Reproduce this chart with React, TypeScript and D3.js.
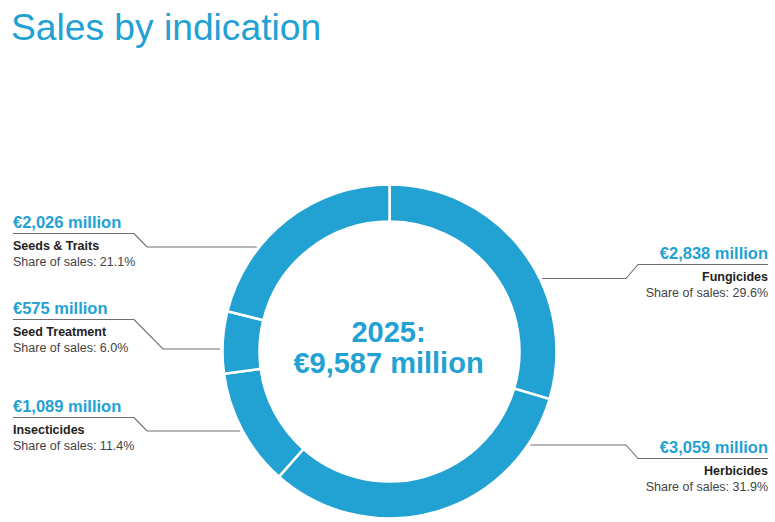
import React from 'react'
import * as d3 from 'd3'

// chart data, clockwise from 12 o'clock
const categories = ['Fungicides', 'Herbicides', 'Insecticides', 'Seed Treatment', 'Seeds & Traits']
const salesMillion = [2838, 3059, 1089, 575, 2026]
const valueLabels = ['€2,838 million', '€3,059 million', '€1,089 million', '€575 million', '€2,026 million']
const shareLabels = ['Share of sales: 29.6%', 'Share of sales: 31.9%', 'Share of sales: 11.4%', 'Share of sales: 6.0%', 'Share of sales: 21.1%']
const totalLabel = ['2025:', '€9,587 million']

const BLUE = '#22a1d3'
const FONT = '"Liberation Sans", Arial, Helvetica, sans-serif'

// label layout: side, y of the underline, y of the bend end (toward the ring)
const labelLayout = [
  { side: 'right', lineY: 264.5, elbowY: 278.5 },
  { side: 'right', lineY: 458.5, elbowY: 445 },
  { side: 'left', lineY: 417.5, elbowY: 431 },
  { side: 'left', lineY: 319.5, elbowY: 349 },
  { side: 'left', lineY: 233.5, elbowY: 247 },
]

const App: React.FC = () => {
  const width = 775
  const height = 522
  const cx = 389.5
  const cy = 351.5
  const outerR = 167
  const innerR = 130

  const pie = d3.pie<number>().sort(null).value(d => d)
  const arcs = pie(salesMillion)
  const arc = d3.arc<d3.PieArcDatum<number>>().innerRadius(innerR).outerRadius(outerR)

  const ringX = (y: number, side: string) => {
    const dy = y - cy
    const dx = Math.sqrt(Math.max(0, outerR * outerR - dy * dy))
    return side === 'left' ? cx - dx - 2.5 : cx + dx + 2.5
  }

  return (
    <svg width={width} height={height} style={{ position: 'absolute', left: 0, top: 0, background: '#fff' }} fontFamily={FONT}>
      <text x={11} y={39.5} fontSize={37.2} fill={BLUE}>Sales by indication</text>

      <g transform={`translate(${cx},${cy})`}>
        {arcs.map((a, i) => (
          <path key={categories[i]} d={arc(a) || ''} fill={BLUE} stroke="#fff" strokeWidth={2.5} />
        ))}
        <text x={-1} y={342 - cy} textAnchor="middle" fontSize={29} fontWeight="bold" fill={BLUE}>{totalLabel[0]}</text>
        <text x={-1} y={372.7 - cy} textAnchor="middle" fontSize={29} fontWeight="bold" fill={BLUE}>{totalLabel[1]}</text>
      </g>

      {categories.map((c, i) => {
        const l = labelLayout[i]
        const left = l.side === 'left'
        const tx = left ? 13 : 768
        const bendX = left ? 134 : 638
        const elbowX = left ? 147 + (Math.abs(l.elbowY - l.lineY) > 20 ? 16 : 0) : 626
        const endX = ringX(l.elbowY, l.side)
        const pts: [number, number][] = [[tx, l.lineY], [bendX, l.lineY], [elbowX, l.elbowY], [endX, l.elbowY]]
        const anchor = left ? 'start' : 'end'
        return (
          <g key={c}>
            <path d={d3.line()(pts) || ''} fill="none" stroke="#6e6e6e" strokeWidth={1.1} />
            <text x={tx} y={l.lineY - 6} textAnchor={anchor} fontSize={16.5} fontWeight="bold" fill={BLUE}>{valueLabels[i]}</text>
            <text x={tx} y={l.lineY + 16.5} textAnchor={anchor} fontSize={12.5} fontWeight="bold" fill="#222">{c}</text>
            <text x={tx} y={l.lineY + 32.5} textAnchor={anchor} fontSize={12.5} fill="#444">{shareLabels[i]}</text>
          </g>
        )
      })}
    </svg>
  )
}

export default App
